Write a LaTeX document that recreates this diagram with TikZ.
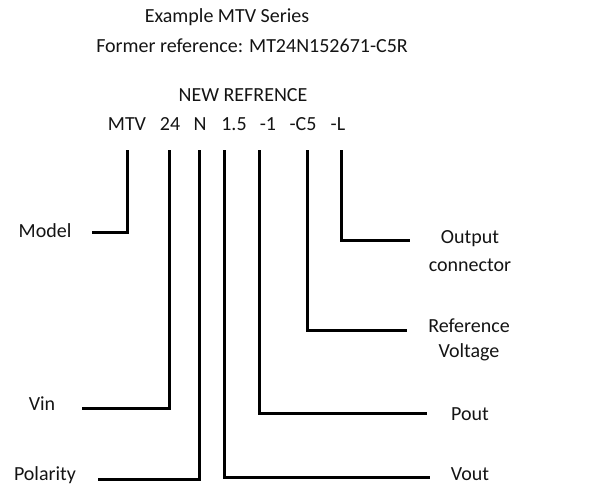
\documentclass[tikz,border=0pt]{standalone}
\usepackage{fontspec}
\setmainfont{Carlito}
\begin{document}
\begin{tikzpicture}[x=1pt,y=-1pt,
  txt/.style={font=\fontsize{20}{26}\selectfont, inner sep=0pt, text=black!92, anchor=base},
  conn/.style={line width=3pt, line join=miter, draw=black}]
\useasboundingbox (0,0) rectangle (614,488);
% titles
\node[txt] (title) at (227,22) {Example MTV Series};
\node[txt] (former) at (252,52) {Former reference: MT24N152671-C5R};
\node[txt] (newref) at (243,101) {NEW REFRENCE};
% code parts
\node[txt] (mtv) at (127,130) {MTV};
\node[txt] (c24) at (170,130) {24};
\node[txt] (cn) at (200,130) {N};
\node[txt] (c15) at (234,130) {1.5};
\node[txt] (c1) at (268,130) {-1};
\node[txt] (cc5) at (303,130) {-C5};
\node[txt] (cl) at (338,130) {-L};
% labels
\node[txt] (model) at (45,237) {Model};
\node[txt] (vin) at (42,410) {Vin};
\node[txt] (polarity) at (45,480) {Polarity};
\node[txt] (output) at (470,243) {Output};
\node[txt] (connector) at (470,271) {connector};
\node[txt] (reference) at (469,332) {Reference};
\node[txt] (voltage) at (469,357) {Voltage};
\node[txt] (pout) at (470,420) {Pout};
\node[txt] (vout) at (470,480) {Vout};
% line tops
\coordinate (t1) at (127,150);
\coordinate (t2) at (169,150);
\coordinate (t3) at (199,150);
\coordinate (t4) at (224,150);
\coordinate (t5) at (259,150);
\coordinate (t6) at (307,150);
\coordinate (t7) at (341,150);
% free ends
\coordinate (e1) at (92,232);
\coordinate (e2) at (82,408);
\coordinate (e3) at (98,479);
\coordinate (e4) at (430,477);
\coordinate (e5) at (427,413);
\coordinate (e6) at (407,330);
\coordinate (e7) at (410,240);
% connectors
\draw[conn] (t1) |- (e1);
\draw[conn] (t2) |- (e2);
\draw[conn] (t3) |- (e3);
\draw[conn] (t4) |- (e4);
\draw[conn] (t5) |- (e5);
\draw[conn] (t6) |- (e6);
\draw[conn] (t7) |- (e7);
\end{tikzpicture}
\end{document}
